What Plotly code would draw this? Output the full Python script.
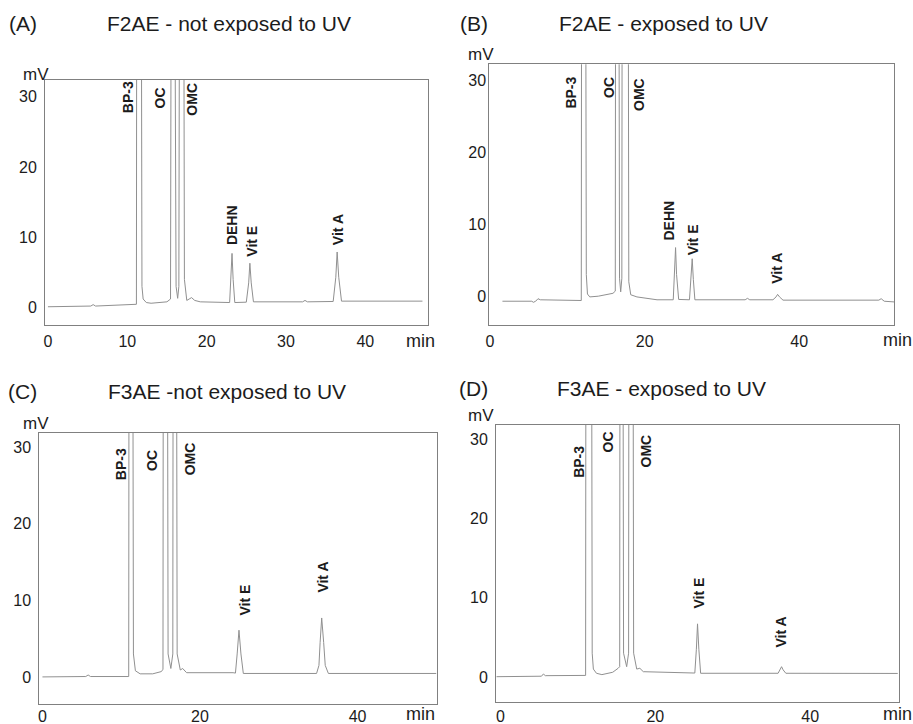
import plotly.graph_objects as go

W, H = 913, 724

# ---------------- data (time in min, signal in mV) ----------------
A_time = [0.0, 5.4, 5.7, 6.0, 11.15, 11.2, 11.75, 11.85, 12.0, 12.4, 13.0, 15.0, 15.45, 15.55, 15.95, 16.15,
          16.35, 16.5, 16.6, 17.1, 17.2, 17.5, 17.8, 18.1, 18.5, 19.2, 22.9, 23.08, 23.2, 23.34, 23.55,
          25.0, 25.3, 25.45, 25.62, 25.9, 32.1, 32.4, 32.7, 35.95, 36.28, 36.45, 36.65, 37.0, 43.5, 47.2]
A_mv = [0.1, 0.2, 0.4, 0.2, 0.45, 60, 60, 3.0, 1.2, 0.7, 0.6, 0.8, 1.2, 60, 60, 3.0,
        1.3, 3.0, 60, 60, 4.0, 1.0, 1.2, 1.4, 1.0, 0.8, 0.7, 4.0, 7.7, 4.0, 0.7,
        0.75, 3.5, 6.3, 3.5, 0.8, 0.8, 1.0, 0.8, 0.85, 4.3, 7.9, 4.3, 0.9, 0.9, 0.9]

B_time = [1.6, 5.4, 5.6, 5.9, 6.2, 6.5, 11.8, 11.85, 12.35, 12.45, 12.6, 12.9, 14.0, 15.9, 16.2, 16.25,
          16.65, 16.75, 16.9, 17.05, 17.1, 17.85, 17.95, 18.2, 19.0, 21.6, 23.7, 23.88, 24.0, 24.13, 24.4,
          25.8, 26.0, 26.15, 26.3, 26.5, 33.0, 33.3, 33.6, 36.6, 37.0, 37.2, 37.45, 37.9, 50.3, 50.6,
          51.0, 52.3]
B_mv = [-0.7, -0.7, -0.85, -0.7, -0.35, -0.5, -0.6, 60, 60, 3.0, 0.3, -0.1, 0.0, 0.4, 0.7, 60,
        60, 2.5, 0.6, 2.5, 60, 60, 2.0, 0.2, -0.1, -0.5, -0.5, 3.0, 6.75, 3.0, -0.45,
        -0.5, 2.3, 5.2, 2.3, -0.5, -0.5, -0.3, -0.5, -0.5, -0.1, 0.25, -0.1, -0.55, -0.55, -0.35,
        -0.7, -0.8]

C_time = [0.0, 5.5, 5.8, 6.1, 10.95, 11.0, 11.45, 11.55, 11.8, 12.4, 14.0, 15.1, 15.3, 15.35, 15.85,
          15.95, 16.3, 16.55, 16.6, 17.0, 17.1, 17.5, 17.8, 18.3, 24.2, 24.5, 24.72, 24.95, 25.2, 25.5,
          34.8, 35.1, 35.25, 35.45, 35.7, 35.9, 36.3, 50.0]
C_mv = [0.0, 0.05, 0.25, 0.05, 0.05, 60, 60, 3.0, 0.8, 0.4, 0.4, 0.7, 1.0, 60, 60,
        3.0, 1.1, 3.0, 60, 60, 3.0, 0.9, 1.1, 0.55, 0.55, 0.5, 3.0, 6.1, 3.0, 0.45,
        0.45, 1.5, 4.5, 7.7, 4.5, 1.5, 0.45, 0.45]

D_time = [-0.5, 5.3, 5.55, 5.8, 11.0, 11.05, 11.75, 11.85, 12.0, 12.4, 13.1, 14.5, 15.2, 15.4, 15.45,
          15.8, 15.9, 16.3, 16.55, 16.6, 17.1, 17.2, 17.6, 18.0, 18.45, 25.1, 25.3, 25.45, 25.62, 25.85,
          35.85, 36.1, 36.3, 36.5, 36.85, 51.3]
D_mv = [0.04, 0.1, 0.38, 0.17, 0.2, 60, 60, 3.0, 1.0, 0.47, 0.3, 0.6, 1.1, 1.3, 60,
        60, 3.0, 1.3, 3.0, 60, 60, 3.0, 1.0, 1.1, 0.67, 0.5, 3.5, 6.7, 3.5, 0.47,
        0.47, 0.9, 1.3, 0.9, 0.47, 0.45]

A_labels = ["BP-3", "OC", "OMC", "DEHN", "Vit E", "Vit A"]
A_label_t = [10.1, 14.1, 18.15, 23.2, 25.7, 36.5]
A_label_mv = [27.4, 28.1, 27.1, 8.6, 7.0, 8.6]

B_labels = ["BP-3", "OC", "OMC", "DEHN", "Vit E", "Vit A"]
B_label_t = [10.5, 15.4, 19.3, 23.2, 26.2, 37.1]
B_label_mv = [25.8, 27.2, 25.4, 7.5, 5.4, 1.5]

C_labels = ["BP-3", "OC", "OMC", "Vit E", "Vit A"]
C_label_t = [10.06, 13.9, 18.7, 25.7, 35.6]
C_label_mv = [25.4, 26.7, 26.1, 7.8, 10.8]

D_labels = ["BP-3", "OC", "OMC", "Vit E", "Vit A"]
D_label_t = [10.2, 13.9, 18.8, 25.6, 36.2]
D_label_mv = [24.9, 28.0, 26.1, 8.4, 3.5]

panel_letters = ["(A)", "(B)", "(C)", "(D)"]
panel_titles = ["F2AE - not exposed to UV", "F2AE - exposed to UV",
                "F3AE -not exposed to UV", "F3AE - exposed to UV"]
y_ticks = [0, 10, 20, 30]
x_ticks_A = [0, 10, 20, 30, 40]
x_ticks_other = [0, 20, 40]

for t, v in [(A_time, A_mv), (B_time, B_mv), (C_time, C_mv), (D_time, D_mv)]:
    assert len(t) == len(v)

# ---------------- layout geometry (pixels) ----------------
FONT = "Liberation Sans, Arial, sans-serif"
LINE = "#909090"
FRAME = "#808080"
TXT = "#1c1c1c"

panels = [
    dict(t=A_time, v=A_mv, lab=A_labels, lt=A_label_t, lv=A_label_mv,
         box=(45, 428, 80, 325), xr=[-0.37, 47.9], yr=[-2.5, 32.4], xt=x_ticks_A,
         xs=2, ys=4, letter=(23, 23), title=(229, 23), mv=(36, 74), mn=(420, 341)),
    dict(t=B_time, v=B_mv, lab=B_labels, lt=B_label_t, lv=B_label_mv,
         box=(489.3, 894.3, 64.3, 325), xr=[-0.1, 52.3], yr=[-4.0, 32.2], xt=x_ticks_other,
         xs=2, ys=-1, letter=(474, 23), title=(663, 23), mv=(481, 55), mn=(897, 340)),
    dict(t=C_time, v=C_mv, lab=C_labels, lt=C_label_t, lv=C_label_mv,
         box=(39.3, 436.7, 432.7, 703.7), xr=[-0.4, 50.05], yr=[-3.5, 31.9], xt=x_ticks_other,
         xs=-2, ys=4, letter=(22, 391), title=(227, 391), mv=(36, 423), mn=(420, 714)),
    dict(t=D_time, v=D_mv, lab=D_labels, lt=D_label_t, lv=D_label_mv,
         box=(496, 899.3, 424.7, 702), xr=[-0.57, 51.5], yr=[-3.15, 31.8], xt=x_ticks_other,
         xs=0, ys=4, letter=(473, 388), title=(661, 388), mv=(481, 415), mn=(897, 714)),
]

fig = go.Figure()
annotations = []
layout = dict(
    width=W, height=H, margin=dict(l=0, r=0, t=0, b=0),
    paper_bgcolor="white", plot_bgcolor="white", showlegend=False,
    font=dict(family=FONT, color=TXT),
)

for i, p in enumerate(panels):
    n = "" if i == 0 else str(i + 1)
    xa, ya = "x" + n, "y" + n
    fig.add_trace(go.Scatter(x=p["t"], y=p["v"], mode="lines", xaxis=xa, yaxis=ya,
                             line=dict(color=LINE, width=1), hoverinfo="skip"))
    x0, x1, y0, y1 = p["box"]
    layout["xaxis" + n] = dict(
        domain=[x0 / W, x1 / W], range=p["xr"], anchor=ya, tickvals=p["xt"],
        showgrid=False, zeroline=False, showline=True, mirror=True, linecolor=FRAME, linewidth=1,
        ticks="", ticklen=0, ticklabelstandoff=p["xs"], tickfont=dict(size=16, color=TXT, family=FONT),
        automargin=False, fixedrange=True)
    layout["yaxis" + n] = dict(
        domain=[1 - y1 / H, 1 - y0 / H], range=p["yr"], anchor=xa, tickvals=y_ticks,
        showgrid=False, zeroline=False, showline=True, mirror=True, linecolor=FRAME, linewidth=1,
        ticks="", ticklen=0, ticklabelstandoff=p["ys"], tickfont=dict(size=16, color=TXT, family=FONT),
        automargin=False, fixedrange=True)
    for txt, tt, vv in zip(p["lab"], p["lt"], p["lv"]):
        annotations.append(dict(x=tt, y=vv, xref=xa, yref=ya, text="<b>" + txt + "</b>", textangle=-90,
                                showarrow=False, xanchor="center", yanchor="bottom",
                                font=dict(size=14, color=TXT, family=FONT)))
    lx, ly = p["letter"]
    annotations.append(dict(x=lx / W, y=1 - ly / H, xref="paper", yref="paper", text=panel_letters[i],
                            showarrow=False, xanchor="center", yanchor="middle",
                            font=dict(size=21, color=TXT, family=FONT)))
    tx, ty = p["title"]
    annotations.append(dict(x=tx / W, y=1 - ty / H, xref="paper", yref="paper", text=panel_titles[i],
                            showarrow=False, xanchor="center", yanchor="middle",
                            font=dict(size=21, color=TXT, family=FONT)))
    mx, my = p["mv"]
    annotations.append(dict(x=mx / W, y=1 - my / H, xref="paper", yref="paper", text="mV",
                            showarrow=False, xanchor="center", yanchor="middle",
                            font=dict(size=17, color=TXT, family=FONT)))
    nx, ny = p["mn"]
    annotations.append(dict(x=nx / W, y=1 - ny / H, xref="paper", yref="paper", text="min",
                            showarrow=False, xanchor="center", yanchor="middle",
                            font=dict(size=18, color=TXT, family=FONT)))

layout["annotations"] = annotations
fig.update_layout(**layout)
fig.write_html("out.html", config={"displayModeBar": False},
               post_script="document.body.style.margin='0';document.body.style.overflow='hidden';")
